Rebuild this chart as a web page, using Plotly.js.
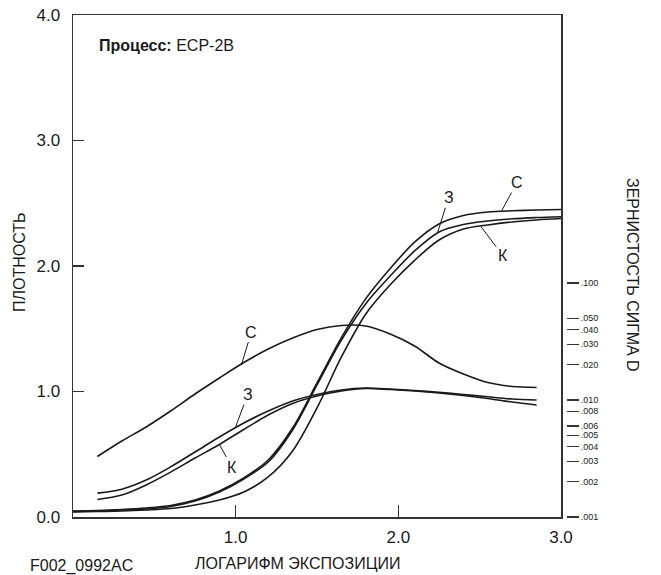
<!DOCTYPE html>
<html>
<head>
<meta charset="utf-8">
<script src="https://cdn.plot.ly/plotly-3.0.1.min.js"></script>
<style>html,body{margin:0;padding:0;background:#fff;}#chart{width:661px;height:575px;}</style>
</head>
<body>
<div id="chart"></div>
<script>
// Density (characteristic) curves: log exposure vs density
const expX  = [0, 0.15, 0.3, 0.45, 0.6, 0.75, 0.9, 1.05, 1.2, 1.35, 1.5, 1.65, 1.8, 1.95, 2.1, 2.25, 2.4, 2.55, 2.7, 2.85, 3.0];
const densC = [0.048, 0.052, 0.060, 0.072, 0.092, 0.135, 0.207, 0.311, 0.454, 0.709, 1.068, 1.43, 1.74, 1.98, 2.19, 2.335, 2.402, 2.430, 2.440, 2.446, 2.450];
const densZ = [0.044, 0.048, 0.056, 0.064, 0.084, 0.127, 0.199, 0.303, 0.438, 0.693, 1.052, 1.41, 1.70, 1.92, 2.12, 2.271, 2.331, 2.359, 2.376, 2.386, 2.393];
const densK = [0.040, 0.044, 0.048, 0.056, 0.068, 0.096, 0.135, 0.199, 0.319, 0.526, 0.869, 1.275, 1.618, 1.85, 2.045, 2.207, 2.295, 2.327, 2.351, 2.367, 2.378];

// Granularity (sigma D) curves
const grainX = [0.15, 0.3, 0.45, 0.6, 0.75, 0.9, 1.05, 1.2, 1.35, 1.5, 1.65, 1.8, 1.95, 2.1, 2.25, 2.4, 2.55, 2.7, 2.85];
const grainC = [0.00329, 0.00446, 0.00588, 0.00805, 0.01125, 0.01542, 0.02091, 0.02729, 0.03388, 0.04005, 0.04333, 0.04290, 0.03665, 0.02894, 0.02071, 0.01668, 0.01411, 0.01304, 0.01279];
const grainZ = [0.00160, 0.00173, 0.00207, 0.00268, 0.00359, 0.00483, 0.00636, 0.00805, 0.00981, 0.01114, 0.01218, 0.01266, 0.01242, 0.01206, 0.01164, 0.01114, 0.01065, 0.01020, 0.01000];
const grainK = [0.00141, 0.00154, 0.00188, 0.00242, 0.00319, 0.00417, 0.00560, 0.00744, 0.00934, 0.01082, 0.01193, 0.01254, 0.01229, 0.01193, 0.01148, 0.01093, 0.01030, 0.00961, 0.00907];

const xTickVals = [1, 2, 3];
const xTickText = ['1.0', '2.0', '3.0'];
const yTickVals = [0, 1, 2, 3, 4];
const yTickText = ['0.0', '1.0', '2.0', '3.0', '4.0'];
const y2TickVals = [0.001, 0.002, 0.003, 0.004, 0.005, 0.006, 0.008, 0.010, 0.020, 0.030, 0.040, 0.050, 0.100];
const y2TickText = ['.001', '.002', '.003', '.004', '.005', '.006', '.008', '.010', '.020', '.030', '.040', '.050', '.100'];

const FONT = 'Liberation Sans, Arial, Helvetica, sans-serif';
const INK = '#1a1a1a';
const line = {color: INK, width: 1.6, shape: 'spline', smoothing: 0.9};

function tr(x, y, axis) {
  return {x: x, y: y, yaxis: axis, type: 'scatter', mode: 'lines', line: line, hoverinfo: 'skip', showlegend: false};
}

const data = [
  tr(expX, densC, 'y'), tr(expX, densZ, 'y'), tr(expX, densK, 'y'),
  tr(grainX, grainC, 'y2'), tr(grainX, grainZ, 'y2'), tr(grainX, grainK, 'y2')
];

function lab(text, x, y, yref, ax, ay) {
  return {text: text, x: x, y: y, xref: 'x', yref: yref, ax: ax, ay: ay, showarrow: true,
          arrowhead: 0, arrowwidth: 1, arrowcolor: INK, standoff: 0, startstandoff: 0,
          font: {family: FONT, size: 16, color: INK}};
}

const layout = {
  width: 661, height: 575,
  margin: {l: 73, r: 95, t: 15, b: 58},
  paper_bgcolor: '#fff', plot_bgcolor: '#fff',
  font: {family: FONT, color: INK},
  xaxis: {
    domain: [0, 488/493], range: [0, 3], tickvals: xTickVals, ticktext: xTickText,
    ticks: 'inside', ticklen: 12, tickwidth: 1.2, tickcolor: '#333',
    showline: true, mirror: true, linecolor: '#333', linewidth: 1.5,
    showgrid: false, zeroline: false, tickfont: {size: 17, family: FONT, color: INK},
    ticklabelstandoff: 4
  },
  yaxis: {
    range: [0, 4], tickvals: yTickVals, ticktext: yTickText,
    ticks: 'inside', ticklen: 11, tickwidth: 1.2, tickcolor: '#333',
    showline: true, mirror: true, linecolor: '#333', linewidth: 1.5,
    showgrid: false, zeroline: false, tickfont: {size: 17, family: FONT, color: INK},
    ticklabelstandoff: 8
  },
  yaxis2: {
    type: 'log', overlaying: 'y', side: 'right', anchor: 'free', position: 1,
    range: [-3, -3 + 502/117], tickvals: y2TickVals, ticktext: y2TickText,
    ticks: 'outside', ticklen: 12, tickwidth: 1.2, tickcolor: '#333',
    showline: false, showgrid: false, zeroline: false,
    tickfont: {size: 9, family: FONT, color: INK}
  },
  annotations: [
    {text: '<b>Процесс:</b> ECP-2B', xref: 'paper', yref: 'paper', x: 0.0487, y: 0.940,
     xanchor: 'left', yanchor: 'middle', showarrow: false, font: {family: FONT, size: 16, color: INK}},
    {text: 'ПЛОТНОСТЬ', xref: 'paper', yref: 'paper', x: -0.1075, y: 0.508, textangle: -90,
     xanchor: 'center', yanchor: 'middle', showarrow: false, font: {family: FONT, size: 16, color: INK}},
    {text: 'ЗЕРНИСТОСТЬ СИГМА D', xref: 'paper', yref: 'paper', x: 1.136, y: 0.482, textangle: 90,
     xanchor: 'center', yanchor: 'middle', showarrow: false, font: {family: FONT, size: 16, color: INK}},
    {text: 'ЛОГАРИФМ ЭКСПОЗИЦИИ', xref: 'paper', yref: 'paper', x: 0.4544, y: -0.0936,
     xanchor: 'center', yanchor: 'middle', showarrow: false, font: {family: FONT, size: 16, color: INK}},
    {text: 'F002_0992AC', xref: 'paper', yref: 'paper', x: -0.0913, y: -0.0976,
     xanchor: 'left', yanchor: 'middle', showarrow: false, font: {family: FONT, size: 16, color: INK}},
    lab('С', 2.636, 2.441, 'y', 15, -28),
    lab('З', 2.241, 2.265, 'y', 11, -35),
    lab('К', 2.507, 2.315, 'y', 22, 29),
    lab('С', 1.035, -1.701, 'y2', 10, -33),
    lab('З', 1.0, -2.228, 'y2', 12, -32),
    lab('К', 0.902, -2.385, 'y2', 12, 22)
  ]
};

Plotly.newPlot('chart', data, layout, {staticPlot: true, displayModeBar: false});
</script>
</body>
</html>
